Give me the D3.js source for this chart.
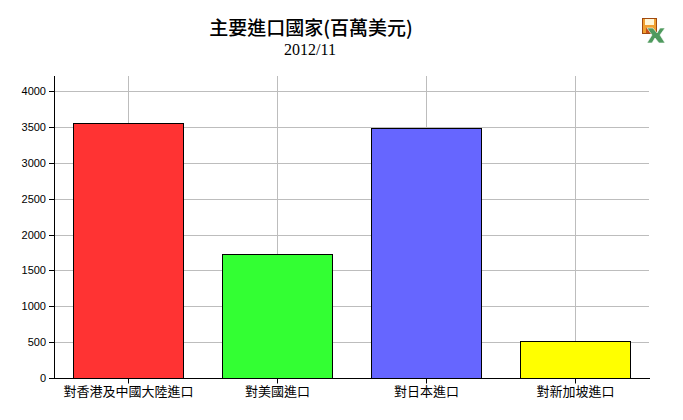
<!DOCTYPE html>
<html>
<head>
<meta charset="utf-8">
<script src="https://cdnjs.cloudflare.com/ajax/libs/d3/7.8.5/d3.min.js"></script>
<style>
  html, body { margin: 0; padding: 0; background: #fff; }
  svg { display: block; }
  .tick text { font-family: "Liberation Sans", Arial, sans-serif; }
</style>
</head>
<body>
<script>
'use-strict';

let categories = ["對香港及中國大陸進口", "對美國進口", "對日本進口", "對新加坡進口"];
let imports = [3555, 1730, 3485, 515];
let barColors = ["#ff3333", "#33ff33", "#6666ff", "#ffff00"];
let yTicks = [0, 500, 1000, 1500, 2000, 2500, 3000, 3500, 4000];

let chartTitle = "主要進口國家(百萬美元)";
let chartSubtitle = "2012/11";

let svgWidth = 683, svgHeight = 420;

// plot area
let margin = { top: 76, left: 54, bottom: 42, right: 33 };

let svg = d3.select("body")
  .append("svg")
  .attr("width", svgWidth)
  .attr("height", svgHeight);

let xScale = d3.scaleBand()
  .domain(categories)
  .range([margin.left, svgWidth - margin.right])
  .paddingInner(0.262)
  .paddingOuter(0.131);

// 4000 sits at y=91, the axis keeps going a bit above it
let yScale = d3.scaleLinear()
  .domain([0, 4000])
  .rangeRound([svgHeight - margin.bottom, 91]);

drawGrid();
drawBars();
drawAxes();
drawTitles();
drawIcon();

function drawGrid() {
  svg.append("g").selectAll("line")
    .data(yTicks.slice(1))
    .enter()
    .append("line")
    .attr("x1", margin.left)
    .attr("x2", svgWidth - margin.right - 1)
    .attr("y1", d => yScale(d) + 0.5)
    .attr("y2", d => yScale(d) + 0.5)
    .style("stroke", "#bdbdbd");

  svg.append("g").selectAll("line")
    .data(categories)
    .enter()
    .append("line")
    .attr("x1", d => Math.floor(xScale(d) + xScale.bandwidth() / 2) + 0.5)
    .attr("x2", d => Math.floor(xScale(d) + xScale.bandwidth() / 2) + 0.5)
    .attr("y1", margin.top)
    .attr("y2", yScale(0))
    .style("stroke", "#bdbdbd");
}

function drawBars() {
  svg.append("g").selectAll("rect")
    .data(categories)
    .enter()
    .append("rect")
    .attr("x", d => Math.floor(xScale(d)) + 0.5)
    .attr("y", (d, i) => yScale(imports[i]) + 0.5)
    .attr("width", Math.round(xScale.bandwidth()))
    .attr("height", (d, i) => yScale(0) - yScale(imports[i]))
    .attr("fill", (d, i) => barColors[i])
    .attr("stroke", "#000");
}

function drawAxes() {
  // band centers already land on .5, so no extra axis offset here
  let xAxis = d3.axisBottom(xScale).offset(0).tickSizeInner(5).tickSizeOuter(0).tickPadding(3);
  let yAxis = d3.axisLeft(yScale)
    .tickValues(yTicks)
    .tickFormat(d3.format("d"))
    .tickSizeInner(5)
    .tickSizeOuter(0)
    .tickPadding(3);

  let xG = svg.append("g")
    .attr("transform", "translate(0," + (yScale(0) + 0.5) + ")")
    .call(xAxis);
  xG.selectAll("text")
    .style("font-family", '"Noto Sans CJK TC", sans-serif')
    .style("font-size", "13px")
    .style("fill", "#000");

  let yG = svg.append("g")
    .attr("transform", "translate(" + margin.left + ",0)")
    .call(yAxis);
  yG.selectAll("text")
    .style("font-size", "11px")
    .style("fill", "#000");

  // the axis line runs above the top tick
  svg.append("line")
    .attr("x1", margin.left + 0.5)
    .attr("x2", margin.left + 0.5)
    .attr("y1", margin.top)
    .attr("y2", yScale(0))
    .style("stroke", "#000");
}

function drawTitles() {
  svg.append("text")
    .attr("x", 311)
    .attr("y", 35)
    .style("text-anchor", "middle")
    .style("font-family", '"Noto Sans CJK TC", sans-serif')
    .style("font-size", "19px")
    .style("font-weight", 500)
    .style("fill", "#000")
    .text(chartTitle);

  svg.append("text")
    .attr("x", 310)
    .attr("y", 55)
    .style("text-anchor", "middle")
    .style("font-family", '"Liberation Serif", serif')
    .style("font-size", "16px")
    .style("fill", "#000")
    .text(chartSubtitle);
}

// save-to-excel icon, top right
function drawIcon() {
  let icon = svg.append("g").attr("transform", "translate(642,18)");
  icon.append("rect").attr("x", 0.5).attr("y", 0.5).attr("width", 14).attr("height", 15)
    .attr("fill", "#f0a030").attr("stroke", "#a04a10");
  icon.append("rect").attr("x", 3).attr("y", 1).attr("width", 9).attr("height", 6).attr("fill", "#fff6d8");
  icon.append("rect").attr("x", 4).attr("y", 10).attr("width", 7).attr("height", 5).attr("fill", "#c8501a");
  icon.append("path").attr("d", "M5 10 L11 10 L15 15 L18 10 L23 10 L18 17 L23 25 L17 25 L13 20 L10 25 L5 25 L10 17 Z")
    .attr("fill", "#4f9a5e").attr("stroke", "#fff").attr("stroke-width", 0.6);
}
</script>
</body>
</html>
